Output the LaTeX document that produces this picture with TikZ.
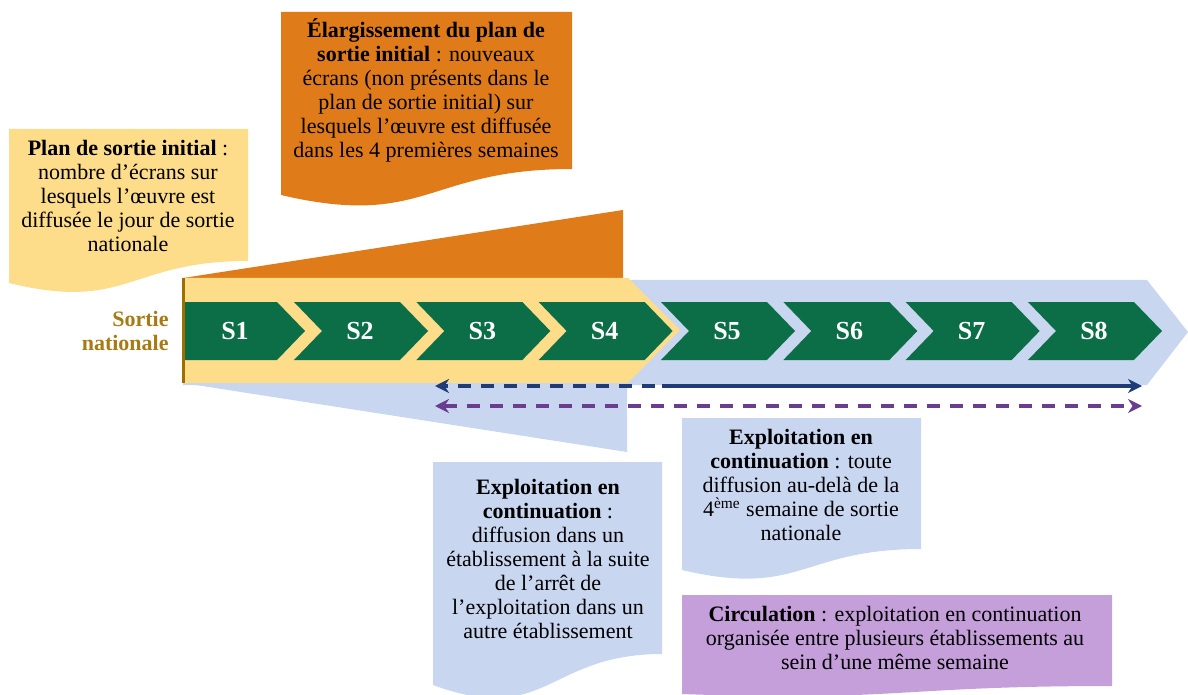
\documentclass[tikz,border=0pt]{standalone}
\usepackage{fontspec}
\setmainfont{Liberation Serif}
\usetikzlibrary{arrows.meta}
\definecolor{cyellow}{HTML}{FDDC8A}
\definecolor{corange}{HTML}{E07B19}
\definecolor{cblue}{HTML}{C8D6F0}
\definecolor{cgreen}{HTML}{0B6E46}
\definecolor{cbrown}{HTML}{9E6F00}
\definecolor{csortie}{HTML}{A77A14}
\definecolor{cdarkblue}{HTML}{1F3C78}
\definecolor{cpurple}{HTML}{6A3D8F}
\definecolor{cpurplebox}{HTML}{C49FDA}
\tikzset{
  txt/.style={align=center, inner sep=0pt, font=\fontsize{11}{12}\selectfont, text=black},
  slabel/.style={inner sep=0pt, font=\fontsize{13}{15}\selectfont\bfseries, text=white},
  arr/.style={line width=1.6pt, -{Stealth[length=7pt,width=7pt]}},
  dsh/.style={dash pattern=on 6.5pt off 5pt},
  chev/.style={fill=cgreen}
}
\begin{document}
\begin{tikzpicture}[x=0.5pt,y=-0.5pt]
\useasboundingbox (0,0) rectangle (1188,695);
% blue band
\fill[cblue] (183,280) -- (1147,280) -- (1188,332) -- (1147,385) -- (183,385) -- cycle;
\fill[cblue] (183,383) -- (627,452) -- (627,383) -- cycle;
% orange wedge
\fill[corange] (183,278) -- (623,210) -- (623,278) -- cycle;
% yellow band
\fill[cyellow] (183,278) -- (628,278) -- (680,330) -- (628,383) -- (183,383) -- cycle;
\draw[cbrown, line width=1.5pt] (183,278) -- (183,383);
% chevrons
\fill[chev] (185,302) -- (277,302) -- (305,331) -- (277,360) -- (185,360) -- cycle;
\node[slabel] (s1) at (235,331) {S1};
\foreach \i in {2,...,8} {
  \pgfmathsetmacro{\xo}{294+122.33*(\i-2)}
  \fill[chev] (\xo,302) -- (\xo+106,302) -- (\xo+134,331) -- (\xo+106,360) -- (\xo,360) -- (\xo+28,331) -- cycle;
  \node[slabel] (s\i) at (\xo+66,331) {S\i};
}
% Sortie nationale
\node[inner sep=0pt, align=right, anchor=east, font=\fontsize{11}{12}\selectfont\bfseries, text=csortie] (sortie) at (169,331) {Sortie\\nationale};
% arrows
\coordinate (dbl) at (435,386);
\coordinate (dbm) at (655,386);
\coordinate (dbn) at (662,386);
\coordinate (dbr) at (1142,386);
\draw[arr, dsh, cdarkblue] (dbm) -- (dbl);
\draw[arr, cdarkblue] (dbn) -- (dbr);
\coordinate (pl) at (435,406);
\coordinate (pr) at (1142,406);
\draw[line width=1.6pt, dsh, cpurple, {Stealth[length=7pt,width=7pt]}-{Stealth[length=7pt,width=7pt]}] (pl) -- (pr);
% Plan de sortie box
\fill[cyellow] (9,129) -- (248,129) -- (248,261) .. controls (128,261) and (128,312) .. (9,283) -- cycle;
\node[txt] (plan) at (128,196) {\textbf{Plan de sortie initial} :\\nombre d’écrans sur\\lesquels l’œuvre est\\diffusée le jour de sortie\\nationale};
% Orange box
\fill[corange] (281,12) -- (572,12) -- (572,169) .. controls (426,169) and (426,229) .. (281,195) -- cycle;
\node[txt] (elarg) at (426,90) {\textbf{Élargissement du plan de}\\\textbf{sortie initial} : nouveaux\\écrans (non présents dans le\\plan de sortie initial) sur\\lesquels l’œuvre est diffusée\\dans les 4 premières semaines};
% Blue box 1
\fill[cblue] (433,462) -- (662,462) -- (662,654) .. controls (547,654) and (547,727) .. (433,685) -- cycle;
\node[txt] (expl1) at (548,559) {\textbf{Exploitation en}\\\textbf{continuation} :\\diffusion dans un\\établissement à la suite\\de l’arrêt de\\l’exploitation dans un\\autre établissement};
% Blue box 2
\fill[cblue] (682,418) -- (921,418) -- (921,549) .. controls (801,549) and (801,598) .. (682,570) -- cycle;
\node[txt] (expl2) at (801,485) {\textbf{Exploitation en}\\\textbf{continuation} : toute\\diffusion au-delà de la\\4\textsuperscript{ème} semaine de sortie\\nationale};
% Purple box
\fill[cpurplebox] (682,595) -- (1112,595) -- (1112,686) .. controls (897,686) and (897,702) .. (682,694) -- cycle;
\node[txt] (circ) at (895,638) {\textbf{Circulation} : exploitation en continuation\\organisée entre plusieurs établissements au\\sein d’une même semaine};
\end{tikzpicture}
\end{document}
